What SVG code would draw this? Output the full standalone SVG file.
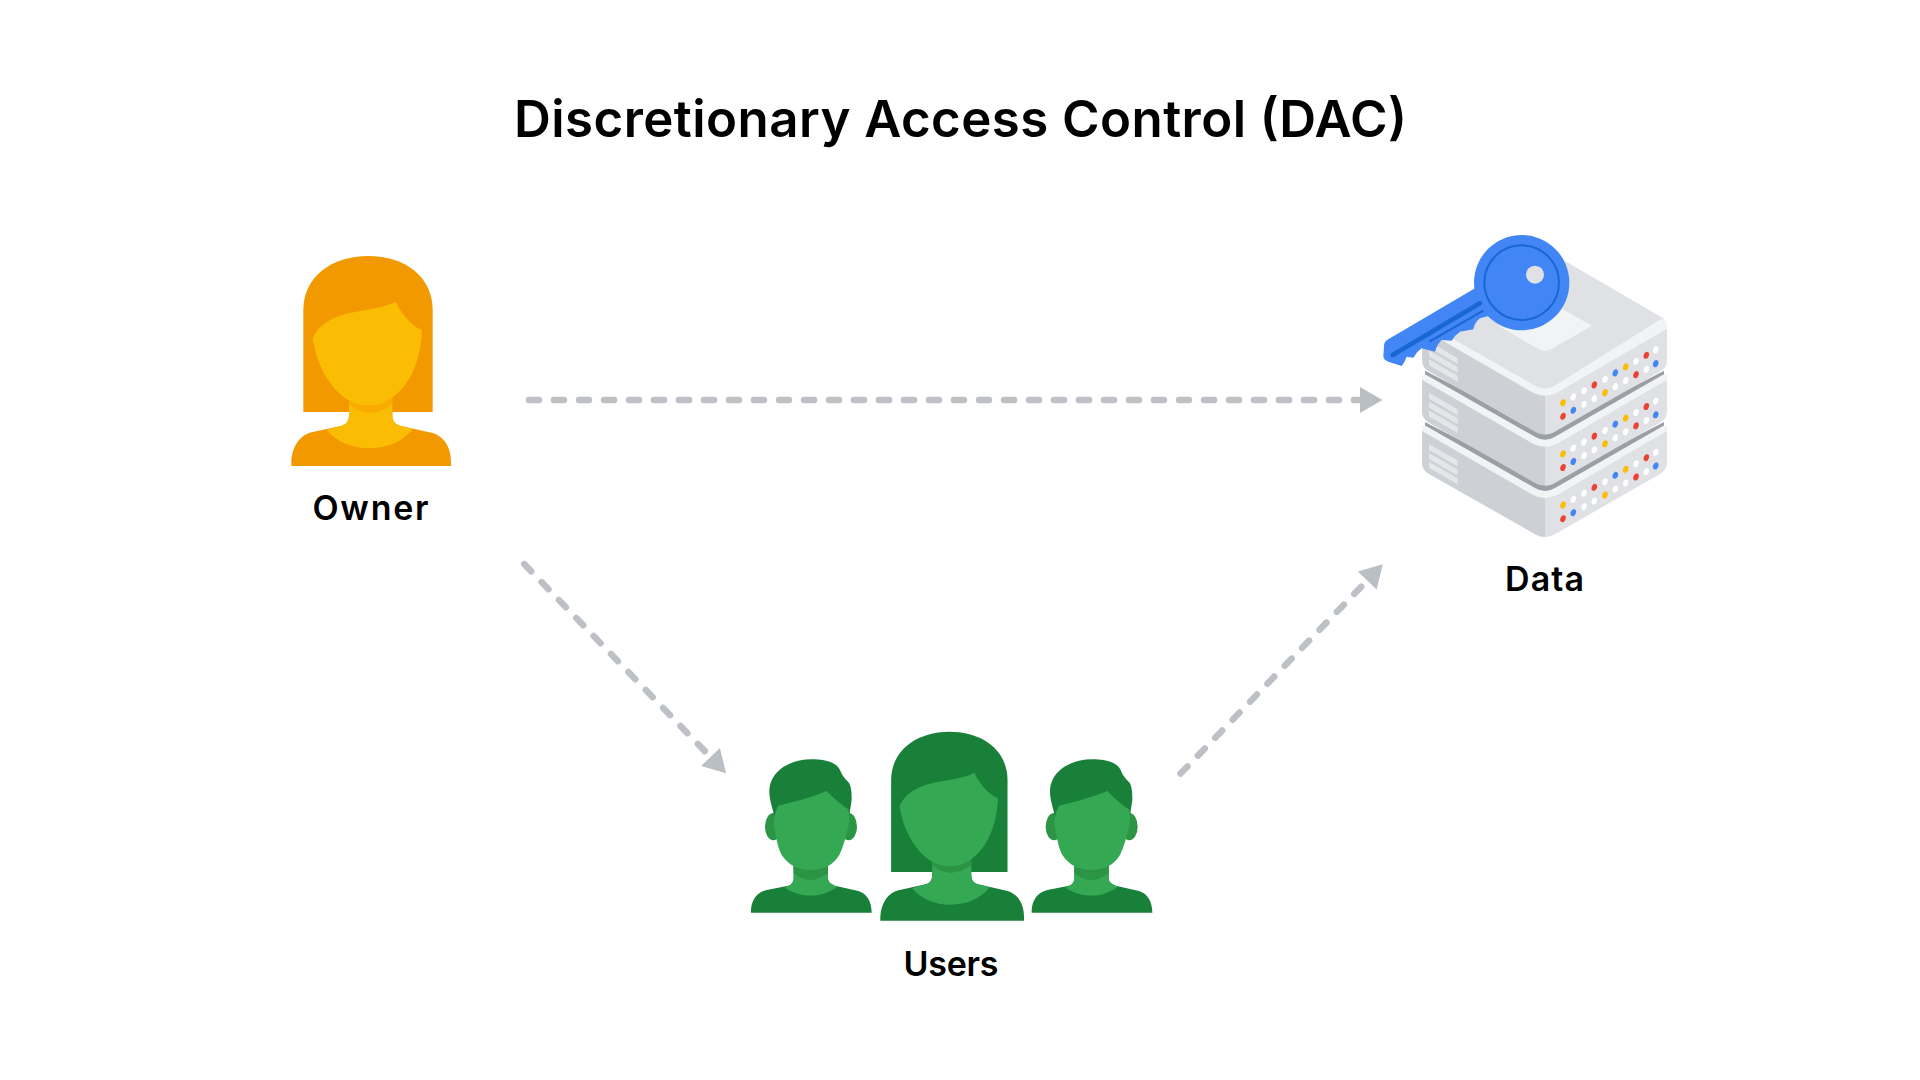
<svg xmlns="http://www.w3.org/2000/svg" width="1920" height="1080" viewBox="0 0 1920 1080">
<style>
text{font-family:"Inter","Noto Sans","Liberation Sans",sans-serif;fill:#000;text-anchor:middle}
.title{font-size:51px;font-weight:600}
.label{font-size:34px;font-weight:600}
.d{fill:var(--d)}.l{fill:var(--l)}.s{fill:var(--s)}
.flow{fill:none;stroke:#BDC1C6;stroke-width:6.5;stroke-linecap:round;stroke-dasharray:10 15;marker-end:url(#head)}
.orange{--d:#F29900;--l:#FBBC04;--s:#F9AB00}
.green{--d:#188038;--l:#34A853;--s:#2B9445}
.front{fill:#DFE1E4}.side{fill:#CDD0D4}.lip{fill:#F1F3F4}.gap{fill:#9AA0A6}.slat{fill:#E4E6E9}
.y{fill:#FBBC04}.r{fill:#EA4335}.b{fill:#4285F4}.w{fill:#FFFFFF}
</style>
<defs>
<marker id="head" markerUnits="userSpaceOnUse" markerWidth="24" markerHeight="28" refX="0" refY="13.5" orient="auto" overflow="visible"><path d="M0 .5L22.5 13.5L0 26.5Z" fill="#BABEC5"/></marker>
<g id="woman">
<path class="d" d="M130 546V240C130 140 215 78 325 78C435 78 518 140 518 240V546Z"/>
<path class="d" d="M94 708V695C96 650 120 615 155 607L245 587C260 583 267 572 267 555V510H397V555C397 572 405 583 420 587L518 609C550 618 573 650 573 695V708Z"/>
<path class="l" d="M200 600L245 587C260 583 267 572 267 555V500H397V555C397 572 405 583 420 587L458 597C430 635 380 655 328 655C275 655 230 635 200 600Z"/>
<path class="s" d="M267 505H397V522C375 540 350 548 328 548C305 548 285 540 267 522Z"/>
<path class="l" d="M158 325C175 290 205 265 265 250C320 238 370 235 407 215C425 250 450 285 486 300C485 350 470 420 435 465C405 505 365 527 325 527C285 527 245 505 215 465C180 420 165 370 158 325Z"/>
</g>
<g id="man">
<ellipse class="s" cx="100" cy="320" rx="25" ry="41"/>
<ellipse class="s" cx="326" cy="320" rx="25" ry="41"/>
<path class="d" d="M105 295C98 265 88 240 88 215C88 160 140 118 215 118C250 118 290 125 300 150C307 170 320 180 328 190C335 205 335 225 335 240C333 255 330 270 328 290Z"/>
<path class="d" d="M33 578V570C35 540 50 518 80 510L145 497C155 495 161 485 161 475V430H264V475C264 485 272 493 285 497L355 513C380 520 395 545 395 578Z"/>
<path class="l" d="M135 503L145 497C155 495 161 485 161 475V430H264V475C264 485 272 493 285 497L292 500C270 517 240 527 212 527C185 527 155 517 135 503Z"/>
<path class="s" d="M161 435H264V459C245 473 228 480 212 480C195 480 178 473 161 459Z"/>
<path class="l" d="M115 257C170 243 215 232 260 213C280 235 305 255 325 268C328 285 330 300 325 320C318 350 310 380 298 405C280 435 250 450 212 450C175 450 145 435 125 405C112 380 108 350 102 315C100 290 108 270 115 257Z"/>
</g>
<g id="unit">
<path class="gap" d="M1425 422L1545 484L1664 422V428L1555 491Q1545 497 1535 491L1425 428Z"/>
<path class="front" d="M1545 495V537Q1551 537 1557 533L1660 474Q1667 470 1667 463V427L1545 494Z"/>
<path class="side" d="M1545 495V537Q1539 537 1533 533L1429 474Q1422 470 1422 463V427L1545 494Z"/>
<path class="lip" d="M1422 429Q1422 425 1426 426L1535 488Q1545 494 1555 488L1663 426Q1667 425 1667 429V431L1557 495Q1545 501 1533 495L1422 431Z"/>
<path class="slat" d="M1429 444L1457.7 460.5V466.5L1429 450ZM1429 453L1457.7 469.5V475.5L1429 459ZM1429 461.7L1457.7 478.2V484.2L1429 467.7Z"/>
<ellipse class="y" cx="1563" cy="505" rx="2.6" ry="3.6" transform="rotate(20 1563 505)"/>
<ellipse class="w" cx="1573.3" cy="499.3" rx="2.6" ry="3.6" transform="rotate(20 1573.3 499.3)"/>
<ellipse class="w" cx="1584" cy="493.3" rx="2.6" ry="3.6" transform="rotate(20 1584 493.3)"/>
<ellipse class="r" cx="1594.3" cy="487.3" rx="2.6" ry="3.6" transform="rotate(20 1594.3 487.3)"/>
<ellipse class="w" cx="1605" cy="481.7" rx="2.6" ry="3.6" transform="rotate(20 1605 481.7)"/>
<ellipse class="b" cx="1615.3" cy="475.3" rx="2.6" ry="3.6" transform="rotate(20 1615.3 475.3)"/>
<ellipse class="y" cx="1625.7" cy="469.3" rx="2.6" ry="3.6" transform="rotate(20 1625.7 469.3)"/>
<ellipse class="w" cx="1636" cy="463.7" rx="2.6" ry="3.6" transform="rotate(20 1636 463.7)"/>
<ellipse class="r" cx="1646.3" cy="457.7" rx="2.6" ry="3.6" transform="rotate(20 1646.3 457.7)"/>
<ellipse class="w" cx="1655.7" cy="452.3" rx="2.6" ry="3.6" transform="rotate(20 1655.7 452.3)"/>
<ellipse class="r" cx="1563" cy="518.7" rx="2.6" ry="3.6" transform="rotate(20 1563 518.7)"/>
<ellipse class="b" cx="1573.3" cy="512.7" rx="2.6" ry="3.6" transform="rotate(20 1573.3 512.7)"/>
<ellipse class="w" cx="1584" cy="506.7" rx="2.6" ry="3.6" transform="rotate(20 1584 506.7)"/>
<ellipse class="w" cx="1594.3" cy="501" rx="2.6" ry="3.6" transform="rotate(20 1594.3 501)"/>
<ellipse class="y" cx="1605" cy="495" rx="2.6" ry="3.6" transform="rotate(20 1605 495)"/>
<ellipse class="w" cx="1615.3" cy="489" rx="2.6" ry="3.6" transform="rotate(20 1615.3 489)"/>
<ellipse class="w" cx="1625.7" cy="483" rx="2.6" ry="3.6" transform="rotate(20 1625.7 483)"/>
<ellipse class="r" cx="1636" cy="477" rx="2.6" ry="3.6" transform="rotate(20 1636 477)"/>
<ellipse class="w" cx="1646.3" cy="471.7" rx="2.6" ry="3.6" transform="rotate(20 1646.3 471.7)"/>
<ellipse class="b" cx="1655.7" cy="466" rx="2.6" ry="3.6" transform="rotate(20 1655.7 466)"/>
</g>
</defs>
<rect width="1920" height="1080" fill="#FFFFFF"/>
<text id="title" class="title" x="960.5" y="137" textLength="893" lengthAdjust="spacing">Discretionary Access Control (DAC)</text>
<g id="connectors">
<path class="flow" d="M529 402H1360" transform="translate(0 -2)"/>
<path class="flow" d="M524.2 564.1L710.5 757"/>
<path class="flow" d="M1180.5 773.6L1367.2 580.5"/>
</g>
<g id="owner" class="orange">
<use href="#woman" transform="translate(260 230) scale(.33333)"/>
<text class="label" x="370.5" y="519.5" textLength="116" lengthAdjust="spacing">Owner</text>
</g>
<g id="users" class="green">
<use href="#man" transform="translate(740 720) scale(.33333)"/>
<use href="#woman" transform="translate(852.13 708.27) scale(.3)"/>
<use href="#man" transform="translate(1020.67 720) scale(.33333)"/>
<text class="label" x="951" y="975.5" textLength="95" lengthAdjust="spacing">Users</text>
</g>
<g id="data">
<use href="#unit"/>
<use href="#unit" y="-51.2"/>
<use href="#unit" y="-102.4"/>
<path class="front" d="M1422 323L1537 254Q1545 250 1553 254L1661 317Q1667 320 1667 327L1555 390Q1545 395 1535 390L1422 325Z"/>
<path class="lip" d="M1592 325.7L1550 350Q1545 352 1540 350L1498 325.7L1545 299Z"/>
<path class="lip" d="M1422 326.6Q1422 322.6 1426 323.6L1535 385.6Q1545 391.6 1555 385.6L1661 319Q1667 318 1667 326.6V328.6L1557 392.6Q1545 398.6 1533 392.6L1422 328.6Z"/>
<g id="key" transform="translate(1370 220) scale(.33333)">
<path fill="#4285F4" d="M315 205L55 358Q42 365 42 378L40 410Q42 420 55 425L95 438Q105 425 110 410L130 413Q140 395 155 385L195 395Q200 375 215 360L245 362Q255 345 270 335L310 328Q315 305 330 295L355 288L400 250L340 180Z"/>
<circle cx="455" cy="188" r="143" fill="#4285F4"/>
<circle cx="455" cy="188" r="112" fill="none" stroke="#1967D2" stroke-width="6"/>
<circle cx="495" cy="164" r="27" fill="#E0E1E4"/>
<path d="M68 405L330 250" fill="none" stroke="#1967D2" stroke-width="14" stroke-linecap="round"/>
<path d="M178 365L340 272" fill="none" stroke="#1967D2" stroke-width="6"/>
</g>
<text class="label" x="1544.6" y="590.5" textLength="79" lengthAdjust="spacing">Data</text>
</g>
</svg>
